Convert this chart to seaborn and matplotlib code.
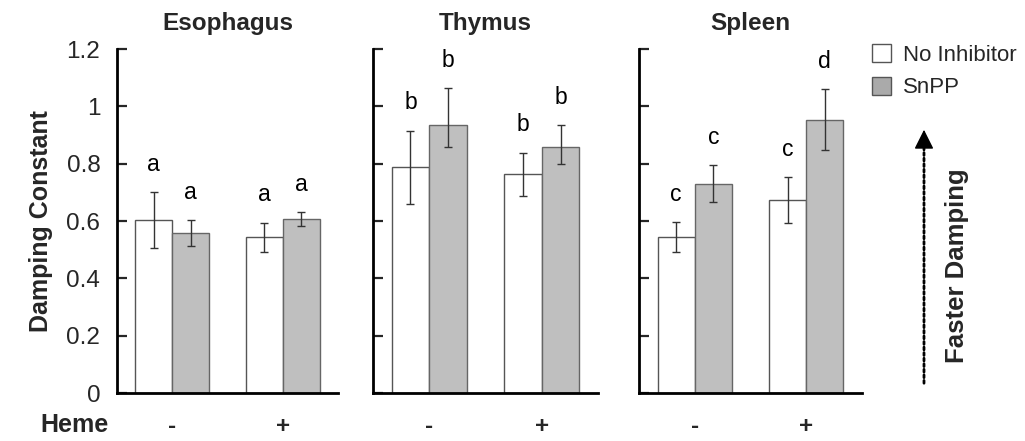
import matplotlib
matplotlib.use("Agg")
import matplotlib.pyplot as plt
import seaborn as sns
import pandas as pd
from matplotlib.patches import Patch, FancyArrowPatch

# data
tissues = ["Esophagus", "Thymus", "Spleen"]
heme = ["-", "+"]
treatments = ["No Inhibitor", "SnPP"]

# values per tissue: [NoInh -, NoInh +, SnPP -, SnPP +]
means = {
    "Esophagus": [0.603, 0.543, 0.559, 0.607],
    "Thymus":    [0.787, 0.763, 0.936, 0.859],
    "Spleen":    [0.545, 0.672, 0.730, 0.953],
}
err_low = {
    "Esophagus": [0.098, 0.050, 0.045, 0.026],
    "Thymus":    [0.127, 0.075, 0.079, 0.060],
    "Spleen":    [0.052, 0.079, 0.064, 0.106],
}
err_high = {
    "Esophagus": [0.097, 0.051, 0.044, 0.024],
    "Thymus":    [0.128, 0.075, 0.127, 0.075],
    "Spleen":    [0.052, 0.080, 0.064, 0.107],
}
letters = {
    "Esophagus": ["a", "a", "a", "a"],
    "Thymus":    ["b", "b", "b", "b"],
    "Spleen":    ["c", "c", "c", "d"],
}

sns.set_theme(style="ticks")
plt.rcParams["font.family"] = ["Liberation Sans", "DejaVu Sans"]

fill = {"No Inhibitor": "#ffffff", "SnPP": "#bfbfbf"}
edge = {"No Inhibitor": "#555555", "SnPP": "#666666"}

fig = plt.figure(figsize=(10.25, 4.41), dpi=100)
lefts = [117 / 1025, 373 / 1025, 639 / 1025]
widths = [221 / 1025, 225 / 1025, 223 / 1025]
bottom = 48 / 441
height = 344 / 441

for i, tissue in enumerate(tissues):
    ax = fig.add_axes([lefts[i], bottom, widths[i], height])
    rows = []
    for t_i, t in enumerate(treatments):
        for h_i, h in enumerate(heme):
            rows.append({"Heme": h, "Treatment": t, "value": means[tissue][t_i * 2 + h_i]})
    df = pd.DataFrame(rows)
    sns.barplot(data=df, x="Heme", y="value", hue="Treatment", order=heme,
                hue_order=treatments, palette=fill, width=0.667, errorbar=None,
                legend=False, ax=ax, saturation=1)
    for k, p in enumerate(ax.patches):
        t = treatments[k // 2]
        p.set_edgecolor(edge[t])
        p.set_linewidth(1.0)
        xc = p.get_x() + p.get_width() / 2
        m = means[tissue][k]
        lo, hi = err_low[tissue][k], err_high[tissue][k]
        ax.errorbar(xc, m, yerr=[[lo], [hi]], fmt="none", ecolor="#333333",
                    elinewidth=1.0, capsize=3, capthick=1.0)
        ax.text(xc, m + hi + 0.097, letters[tissue][k], ha="center", va="center",
                fontsize=16.5, color="black")

    ax.set_xlim(-0.5, 1.5)
    ax.set_ylim(0, 1.2)
    ax.set_yticks([0, 0.2, 0.4, 0.6, 0.8, 1.0, 1.2])
    sns.despine(ax=ax)
    for s in ["left", "bottom"]:
        ax.spines[s].set_linewidth(2)
        ax.spines[s].set_color("black")
    ax.tick_params(axis="y", direction="in", length=7, width=1.6, labelsize=17.5, pad=12)
    ax.tick_params(axis="x", length=0, labelsize=17.5, pad=16)
    for lab in ax.get_xticklabels():
        lab.set_fontweight("bold")
    ax.set_xlabel("")
    ax.set_title(tissue, fontsize=17.5, fontweight="bold", pad=14)
    if i == 0:
        ax.set_yticklabels(["0", "0.2", "0.4", "0.6", "0.8", "1", "1.2"])
        ax.set_ylabel("Damping Constant", fontsize=18, fontweight="bold", labelpad=10)
    else:
        ax.set_yticklabels([])
        ax.set_ylabel("")

fig.text(40 / 1025, 1 - 425 / 441, "Heme", fontsize=18, fontweight="bold",
         ha="left", va="center")

handles = [Patch(facecolor="#ffffff", edgecolor="#555555", linewidth=1.0),
           Patch(facecolor="#aaaaaa", edgecolor="#555555", linewidth=1.0)]
fig.legend(handles, treatments, loc="upper left", bbox_to_anchor=(0.831, 0.945),
           frameon=False, fontsize=16, handlelength=0.85, handleheight=0.85,
           handletextpad=0.55, labelspacing=0.5)

# dotted shaft plus a solid head
fig.patches.append(FancyArrowPatch(
    (924 / 1025, 1 - 386 / 441), (924 / 1025, 1 - 138 / 441),
    transform=fig.transFigure, arrowstyle="-",
    linestyle=(0, (1, 1)), linewidth=2, color="black"))
fig.patches.append(FancyArrowPatch(
    (924 / 1025, 1 - 140 / 441), (924 / 1025, 1 - 127 / 441),
    transform=fig.transFigure, arrowstyle="-|>,head_length=8,head_width=4",
    linewidth=1, color="black", mutation_scale=1.5))
fig.text(957 / 1025, 1 - 266 / 441, "Faster Damping", rotation=90, fontsize=18.5,
         fontweight="bold", ha="center", va="center")

fig.savefig("out.png", dpi=100)
